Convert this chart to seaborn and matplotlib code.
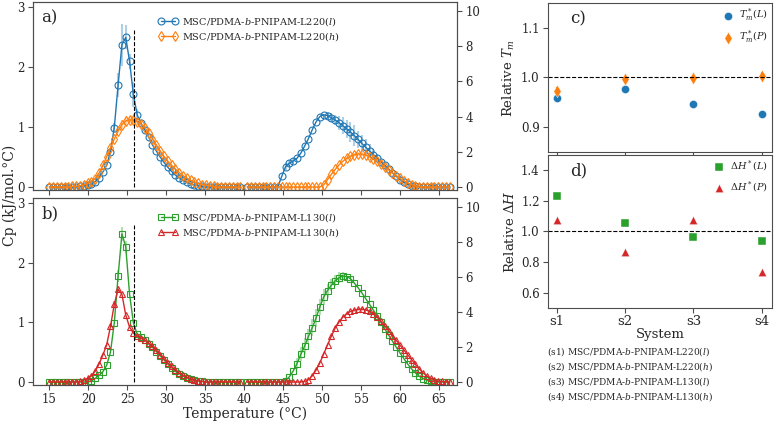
import numpy as np
import matplotlib
matplotlib.use("Agg")
import matplotlib.pyplot as plt
import seaborn as sns
from matplotlib.lines import Line2D

# ---------------- data ----------------
T_left = np.round(np.linspace(15.0, 39.5, 51), 2)
T_right = np.round(np.linspace(40.4, 66.37, 54), 2)

a_l_left = [0, 0, 0, 0, 0, 0, 0, 0,
            0.01, 0.02, 0.03, 0.05, 0.09, 0.15, 0.25, 0.36, 0.59, 0.99, 1.70, 2.37, 2.49, 2.09, 1.54,
            1.20, 1.06, 0.95, 0.83, 0.70, 0.60, 0.50, 0.41, 0.33, 0.26, 0.20, 0.15, 0.11, 0.08, 0.05,
            0.03, 0.02, 0.01,
            0, 0, 0, 0, 0, 0, 0, 0, 0, 0]
a_h_left = [0, 0, 0, 0, 0, 0,
            0.01, 0.01, 0.02, 0.03, 0.06, 0.09, 0.14, 0.23, 0.36, 0.50, 0.65, 0.80, 0.93, 1.04, 1.10,
            1.12, 1.11, 1.09, 1.05, 0.99, 0.90, 0.80, 0.70, 0.60, 0.51, 0.43, 0.36, 0.30, 0.24, 0.19,
            0.15, 0.11, 0.08, 0.06, 0.04, 0.03, 0.02, 0.01,
            0, 0, 0, 0, 0, 0, 0]
a_l_right = [0, 0, 0, 0, 0, 0, 0, 0,
             0.02, 0.60, 1.15, 1.35, 1.47, 1.63, 1.92, 2.32, 2.75, 3.25, 3.70, 4.00, 4.10, 4.05, 3.93,
             3.80, 3.65, 3.48, 3.30, 3.12, 2.92, 2.70, 2.47, 2.25, 2.04, 1.84, 1.64, 1.44, 1.24, 1.02,
             0.80, 0.60, 0.42, 0.27, 0.15, 0.07, 0.03, 0.01,
             0, 0, 0, 0, 0, 0, 0, 0]
a_h_right = [0] * 20 + [0.12, 0.42, 0.72, 1.00, 1.25, 1.46, 1.62, 1.74, 1.83, 1.88, 1.87, 1.82, 1.73,
                        1.60, 1.45, 1.30, 1.13, 0.97, 0.80, 0.64, 0.49, 0.35, 0.23, 0.13, 0.06, 0.02,
                        0, 0, 0, 0, 0, 0, 0, 0]
b_l_left = [0, 0, 0, 0, 0, 0, 0, 0, 0, 0, 0,
            0.02, 0.06, 0.11, 0.17, 0.28, 0.50, 0.99, 1.78, 2.48, 2.26, 1.47, 0.99, 0.80, 0.75, 0.70,
            0.64, 0.58, 0.51, 0.44, 0.37, 0.30, 0.24, 0.18, 0.14, 0.10, 0.07, 0.05, 0.03, 0.02, 0.01,
            0, 0, 0, 0, 0, 0, 0, 0, 0, 0]
b_h_left = [0, 0, 0, 0, 0, 0, 0, 0,
            0.01, 0.03, 0.06, 0.10, 0.18, 0.30, 0.45, 0.62, 0.93, 1.30, 1.55, 1.47, 1.12, 0.92, 0.82,
            0.77, 0.73, 0.70, 0.65, 0.60, 0.53, 0.46, 0.39, 0.32, 0.26, 0.20, 0.15, 0.11, 0.08, 0.05,
            0.03, 0.02, 0.01,
            0, 0, 0, 0, 0, 0, 0, 0, 0, 0]
b_l_right = [0, 0, 0, 0, 0, 0, 0, 0, 0,
             0.01, 0.08, 0.30, 0.62, 1.05, 1.58, 2.05, 2.60, 3.10, 3.65, 4.30, 4.85, 5.22, 5.52, 5.78,
             5.95, 6.05, 6.02, 5.90, 5.65, 5.38, 5.08, 4.76, 4.43, 4.10, 3.76, 3.40, 3.03, 2.68, 2.33,
             1.98, 1.65, 1.33, 1.02, 0.75, 0.52, 0.33, 0.20, 0.10, 0.05, 0.02,
             0, 0, 0, 0]
b_h_right = [0] * 15 + [0.03, 0.13, 0.35, 0.68, 1.10, 1.60, 2.12, 2.62, 3.08, 3.42, 3.70, 3.90, 4.03,
                        4.10, 4.15, 4.16, 4.12, 4.03, 3.88, 3.70, 3.46, 3.20, 2.93, 2.65, 2.38, 2.10,
                        1.83, 1.55, 1.28, 1.00, 0.75, 0.52, 0.35, 0.22, 0.13, 0.06, 0.03, 0.01, 0]

# sparse error bars {index: error}
err_a_l_left = {16: 0.05, 17: 0.08, 18: 0.2, 19: 0.35, 20: 0.2, 21: 0.12, 22: 0.2, 23: 0.1, 24: 0.05}
err_a_h_left = {19: 0.08, 20: 0.08, 21: 0.06, 22: 0.06, 23: 0.05}
err_a_l_right = {10: 0.2, 11: 0.2, 12: 0.15, 21: 0.2, 22: 0.25, 23: 0.3, 24: 0.4, 25: 0.5, 26: 0.5,
                 27: 0.55, 28: 0.6, 29: 0.5, 30: 0.5, 31: 0.45, 32: 0.4, 33: 0.3, 34: 0.2}
err_a_h_right = {26: 0.1, 27: 0.1, 28: 0.12, 29: 0.12, 30: 0.1, 31: 0.1}
err_b_l_left = {18: 0.1, 19: 0.12, 20: 0.1}
err_b_h_left = {17: 0.05, 18: 0.06}
err_b_l_right = {13: 0.3, 14: 0.4, 15: 0.45, 16: 0.45, 17: 0.5, 18: 0.5, 19: 0.45, 20: 0.45,
                 21: 0.4, 22: 0.35, 23: 0.3, 24: 0.3, 25: 0.25}
err_b_h_right = {28: 0.08, 29: 0.1, 30: 0.1, 31: 0.08}

T_ref = 25.8
T_ref_top = 2.62

systems = ["s1", "s2", "s3", "s4"]
tm_L = [0.958, 0.976, 0.946, 0.927]
tm_P = [0.973, 0.996, 0.999, 1.004]
tm_P_err = [0.007, 0.007, 0.007, 0.007]
dH_L = [1.233, 1.053, 0.965, 0.94]
dH_P = [1.073, 0.864, 1.075, 0.738]

labels_a = ["MSC/PDMA-$b$-PNIPAM-L220($l$)", "MSC/PDMA-$b$-PNIPAM-L220($h$)"]
labels_b = ["MSC/PDMA-$b$-PNIPAM-L130($l$)", "MSC/PDMA-$b$-PNIPAM-L130($h$)"]
system_names = ["(s1) MSC/PDMA-$b$-PNIPAM-L220($l$)", "(s2) MSC/PDMA-$b$-PNIPAM-L220($h$)",
                "(s3) MSC/PDMA-$b$-PNIPAM-L130($l$)", "(s4) MSC/PDMA-$b$-PNIPAM-L130($h$)"]

# ---------------- style ----------------
sns.set_style("ticks")
plt.rcParams['font.family'] = ['DejaVu Serif']
plt.rcParams['mathtext.fontset'] = 'dejavuserif'
plt.rcParams['axes.edgecolor'] = '0.3'
plt.rcParams['axes.linewidth'] = 0.8

BLUE, ORANGE, GREEN, RED = '#1f77b4', '#ff7f0e', '#2ca02c', '#d62728'
TICK_FS = 8.5
W, H = 774, 424

fig = plt.figure(figsize=(W / 100, H / 100), dpi=100)


def fr(x0, y0, x1, y1):
    return [x0 / W, 1 - y1 / H, (x1 - x0) / W, (y1 - y0) / H]


axa = fig.add_axes(fr(33, 2, 457, 190))
axb = fig.add_axes(fr(33, 198, 457, 385))
axc = fig.add_axes(fr(548, 3, 772, 152))
axd = fig.add_axes(fr(548, 155, 772, 308))


def draw(ax, T, y, err, color, marker):
    e = np.zeros(len(y))
    for k, v in err.items():
        e[k] = v
    ax.errorbar(T, y, yerr=e, fmt='none', ecolor=color, alpha=0.35, elinewidth=1.5, capsize=0)
    sns.lineplot(x=T, y=np.asarray(y, float), ax=ax, color=color, marker=marker, markersize=5,
                 markerfacecolor='none', markeredgecolor=color, markeredgewidth=0.8,
                 linewidth=1.0, sort=False, errorbar=None, legend=False)


def setup_temp(ax, ax2, show_xlabels):
    ax.set_xlim(12.9, 67.3)
    ax.set_ylim(-0.05, 3.08)
    ax.set_yticks([0, 1, 2, 3])
    ax.set_xticks(range(15, 70, 5))
    ax2.set_ylim(-0.17, 10.5)
    ax2.set_yticks(range(0, 11, 2))
    for a in (ax, ax2):
        a.tick_params(labelsize=TICK_FS, length=3.5, width=0.8, color='0.3', pad=2.5)
        a.set_xlabel("")
        a.set_ylabel("")
    if not show_xlabels:
        ax.set_xticklabels([])
    ax.plot([T_ref, T_ref], [0, T_ref_top], color='k', ls='--', lw=0.8)


# panel a
axa2 = axa.twinx()
draw(axa, T_left, a_l_left, err_a_l_left, BLUE, 'o')
draw(axa, T_left, a_h_left, err_a_h_left, ORANGE, 'd')
draw(axa2, T_right, a_l_right, err_a_l_right, BLUE, 'o')
draw(axa2, T_right, a_h_right, err_a_h_right, ORANGE, 'd')
setup_temp(axa, axa2, False)

# panel b
axb2 = axb.twinx()
draw(axb, T_left, b_l_left, err_b_l_left, GREEN, 's')
draw(axb, T_left, b_h_left, err_b_h_left, RED, '^')
draw(axb2, T_right, b_l_right, err_b_l_right, GREEN, 's')
draw(axb2, T_right, b_h_right, err_b_h_right, RED, '^')
setup_temp(axb, axb2, True)
axb.set_xlabel("Temperature (°C)", fontsize=10, labelpad=0)


def leg_handles(colors, markers):
    return [Line2D([0], [0], color=c, marker=m, markersize=5, markerfacecolor='none',
                   markeredgecolor=c, markeredgewidth=0.8, lw=1.0) for c, m in zip(colors, markers)]


axa.legend(leg_handles([BLUE, ORANGE], ['o', 'd']), labels_a, loc='upper left',
           bbox_to_anchor=(0.28, 0.965), frameon=False, fontsize=7, numpoints=2,
           labelspacing=0.15, handlelength=2.0, handletextpad=0.4, borderpad=0.2)
axb.legend(leg_handles([GREEN, RED], ['s', '^']), labels_b, loc='upper left',
           bbox_to_anchor=(0.28, 0.965), frameon=False, fontsize=7, numpoints=2,
           labelspacing=0.15, handlelength=2.0, handletextpad=0.4, borderpad=0.2)

axa.text(0.02, 0.96, "a)", transform=axa.transAxes, fontsize=12, va='top', ha='left')
axb.text(0.02, 0.96, "b)", transform=axb.transAxes, fontsize=12, va='top', ha='left')
fig.text(10 / W, 1 - 195 / H, "Cp (kJ/mol.°C)", rotation=90, fontsize=10, va='center', ha='center')

# panel c
axc.errorbar(systems, tm_P, yerr=tm_P_err, fmt='none', ecolor=ORANGE, elinewidth=1.2, capsize=0)
sns.scatterplot(x=systems, y=tm_L, ax=axc, color=BLUE, marker='o', s=34, linewidth=0.3,
                edgecolor='white', label="$T_m^*(L)$")
sns.scatterplot(x=systems, y=tm_P, ax=axc, color=ORANGE, marker='d', s=40, linewidth=0.3,
                edgecolor='white', label="$T_m^*(P)$")
axc.axhline(1.0, color='k', ls='--', lw=0.8)
axc.set_ylim(0.85, 1.15)
axc.set_yticks([0.9, 1.0, 1.1])
axc.set_xlim(-0.13, 3.15)
axc.set_xticklabels([])
axc.set_ylabel("Relative $T_m$", fontsize=9.5, labelpad=3)
axc.text(0.1, 0.95, "c)", transform=axc.transAxes, fontsize=12, va='top', ha='left')
axc.legend(loc='upper right', frameon=False, fontsize=7, handletextpad=0.1, borderpad=0.3,
           labelspacing=0.5, markerscale=1.0, borderaxespad=0.1)

# panel d
sns.scatterplot(x=systems, y=dH_L, ax=axd, color=GREEN, marker='s', s=32, linewidth=0.3,
                edgecolor='white', label="$\\Delta H^*(L)$")
sns.scatterplot(x=systems, y=dH_P, ax=axd, color=RED, marker='^', s=36, linewidth=0.3,
                edgecolor='white', label="$\\Delta H^*(P)$")
axd.axhline(1.0, color='k', ls='--', lw=0.8)
axd.set_ylim(0.5, 1.5)
axd.set_yticks([0.6, 0.8, 1.0, 1.2, 1.4])
axd.set_xlim(-0.13, 3.15)
axd.set_ylabel("Relative $\\Delta H$", fontsize=9.5, labelpad=3)
axd.set_xlabel("System", fontsize=9.5, labelpad=0)
axd.text(0.1, 0.95, "d)", transform=axd.transAxes, fontsize=12, va='top', ha='left')
axd.legend(loc='upper right', frameon=False, fontsize=7, handletextpad=0.1, borderpad=0.3,
           labelspacing=0.5, markerscale=1.0, borderaxespad=0.1)

for ax in (axc, axd):
    ax.tick_params(labelsize=TICK_FS, length=3.5, width=0.8, color='0.3', pad=2.5)
axd.tick_params(axis='x', labelsize=9.5, pad=1.5)

for i, name in enumerate(system_names):
    fig.text(547 / W, 1 - (352 + 15 * i) / H, name, fontsize=6.5, va='center', ha='left')

fig.savefig("out.png", dpi=100)
